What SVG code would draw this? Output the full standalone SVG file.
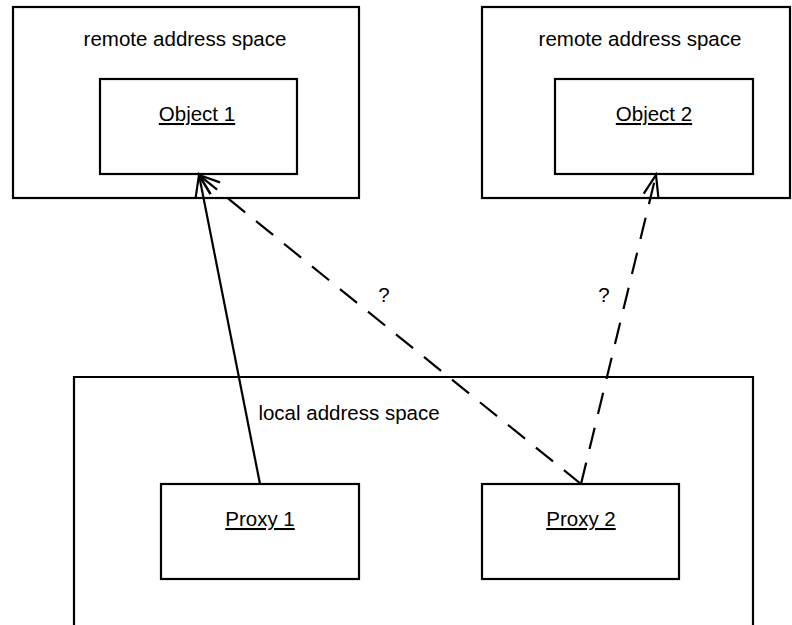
<svg xmlns="http://www.w3.org/2000/svg" width="792" height="625" viewBox="0 0 792 625">
  <style>
    .box { fill: #ffffff; stroke: #000000; stroke-width: 2.2; }
    .lbl { font-family: "Liberation Sans", Arial, sans-serif; font-size: 20.5px; fill: #000000; text-anchor: middle; }
    .ul { text-decoration: underline; }
    .conn { fill: none; stroke: #000000; stroke-width: 2.2; }
    .dash { stroke-dasharray: 22 14; }
  </style>
  <defs>
    <marker id="open" viewBox="-24 -12 28 24" refX="0" refY="0" markerWidth="28" markerHeight="24" markerUnits="userSpaceOnUse" orient="auto">
      <path d="M-21,-7.5 L0,0 L-21,7.5" fill="none" stroke="#000000" stroke-width="2.2" stroke-dasharray="none"/>
    </marker>
  </defs>
  <rect width="792" height="625" fill="#ffffff"/>

  <g id="remote1">
    <rect class="box" x="13" y="7" width="346" height="191"/>
    <text class="lbl" x="185" y="46">remote address space</text>
  </g>
  <g id="object1">
    <rect class="box" x="100" y="79" width="197" height="95"/>
    <text class="lbl ul" x="197" y="121">Object 1</text>
  </g>
  <g id="remote2">
    <rect class="box" x="482" y="7" width="308" height="191"/>
    <text class="lbl" x="640" y="46">remote address space</text>
  </g>
  <g id="object2">
    <rect class="box" x="555" y="79" width="198" height="95"/>
    <text class="lbl ul" x="654" y="121">Object 2</text>
  </g>
  <g id="local">
    <path class="box" d="M74,627 L74,377 L753,377 L753,627"/>
    <text class="lbl" x="349" y="420">local address space</text>
  </g>
  <g id="proxy1">
    <rect class="box" x="161" y="484" width="198" height="95"/>
    <text class="lbl ul" x="260" y="526">Proxy 1</text>
  </g>
  <g id="proxy2">
    <rect class="box" x="482" y="484" width="197" height="95"/>
    <text class="lbl ul" x="581" y="526">Proxy 2</text>
  </g>

  <g id="connectors">
    <line class="conn" x1="260" y1="484" x2="199" y2="175" marker-end="url(#open)"/>
    <line class="conn dash" x1="581" y1="484" x2="199" y2="175" marker-end="url(#open)"/>
    <line class="conn dash" x1="581" y1="484" x2="656" y2="175" marker-end="url(#open)"/>
    <text class="lbl" x="384" y="302">?</text>
    <text class="lbl" x="604" y="302">?</text>
  </g>
</svg>
